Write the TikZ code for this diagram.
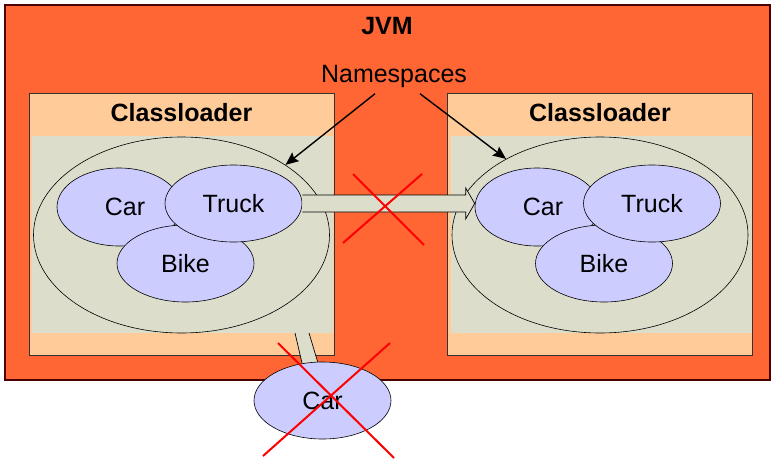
\documentclass[tikz,border=0pt]{standalone}
\usepackage{fontspec}
\setmainfont{Liberation Sans}
\usetikzlibrary{arrows.meta, positioning, calc, shapes.geometric}

\definecolor{jvmorange}{HTML}{FF6633}
\definecolor{peach}{HTML}{FFCC99}
\definecolor{sage}{HTML}{DDDDCC}
\definecolor{lilac}{HTML}{CCCCFF}
\definecolor{crossred}{HTML}{FF0000}

\begin{document}
\begin{tikzpicture}[x=1pt, y=-1pt,
  every node/.style={font=\fontsize{25}{30}\selectfont},
  jvmbox/.style={draw=black!70!red, line width=1.2pt, fill=jvmorange,
                 minimum width=765pt, minimum height=375pt, inner sep=0pt},
  loader/.style={draw=black!80, line width=0.7pt, fill=peach,
                 minimum width=305pt, minimum height=262pt, inner sep=0pt},
  pool/.style={fill=sage, minimum width=301pt, minimum height=197pt, inner sep=0pt},
  ns/.style={ellipse, draw, line width=0.6pt, fill=sage,
             minimum width=296pt, minimum height=196pt, inner sep=0pt},
  cls/.style={ellipse, draw, line width=0.6pt, fill=lilac,
              minimum width=137pt, minimum height=77pt, inner sep=0pt},
  title/.style={font=\fontsize{25}{30}\selectfont\bfseries},
  arr/.style={-{Stealth[length=13pt, width=11pt, inset=2pt]}, line width=1.4pt},
  blk/.style={draw, line width=0.7pt, fill=sage, line join=miter},
  nope/.style={draw=crossred, line width=2pt}
]
\useasboundingbox (0,0) rectangle (776,463);

\node[jvmbox] (jvm) at (387.5,192.5) {};
\node[title] (jvmlbl) at (387,26) {JVM};

% the two class loaders
\node[loader] (loadL) at (181.5,224.5) {};
\node[loader] (loadR) at (600,224.5) {};
\node[pool] (poolL) at (182.5,234.5) {};
\node[pool] (poolR) at (601,234.5) {};
\node[title] (titleL) at (181.5,113) {Classloader};
\node[title] (titleR) at (600,113) {Classloader};

% band down to the stray car
\fill[sage] (295,333) -- (309,333) -- (318,363) -- (302,363) -- cycle;
\draw[line width=0.7pt] (295,333) -- (302,363) (309,333) -- (318,363);

\node[ns] (nsL) at (181.5,235) {};
\node[ns] (nsR) at (600,235) {};

\node[cls, minimum width=124pt, minimum height=78pt] (carL) at (119,207) {};
\node[cls] (bikeL) at (185.5,263.5) {Bike};
\node[cls] (truckL) at (233.5,203.5) {Truck};
\node at (carL) [xshift=6pt] {Car};

\node[cls, minimum width=124pt, minimum height=78pt] (carR) at (537,207) {};
\node[cls] (bikeR) at (604,263.5) {Bike};
\node[cls] (truckR) at (652,203.5) {Truck};
\node at (carR) [xshift=6pt] {Car};

% block arrow between the namespaces
\coordinate (tip) at (carR.west |- truckL.east);
\draw[blk] ($(truckL.east)+(0,-8.5)$) -- ($(tip)+(-9,-8.5)$) -- ($(tip)+(-9,-15.5)$)
  -- (tip) -- ($(tip)+(-9,15.5)$) -- ($(tip)+(-9,8.5)$) -- ($(truckL.east)+(0,8.5)$);

\draw[nope] (353,174) -- (424,245) (343,243) -- (422,174);

\node (nslbl) at (394,76) {Namespaces};
\draw[arr] ($(nslbl.south)+(-19,3)$) -- (nsL.34);
\draw[arr] ($(nslbl.south)+(26,3)$) -- (nsR.141);

\node[cls] (carB) at (322.5,400.5) {Car};
\draw[nope] (278,343) -- (394,458) (263,456) -- (390,343);
\end{tikzpicture}
\end{document}
